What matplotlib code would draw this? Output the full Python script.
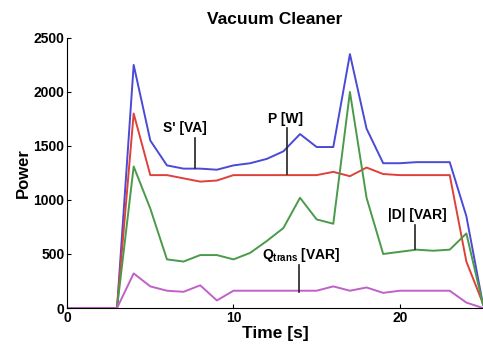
import numpy as np
import matplotlib
matplotlib.use('Agg')
import matplotlib.pyplot as plt

plt.rcParams['font.family'] = 'Liberation Sans'
plt.rcParams['font.weight'] = 'bold'
plt.rcParams['mathtext.fontset'] = 'custom'
plt.rcParams['mathtext.rm'] = 'Liberation Sans:bold'
plt.rcParams['mathtext.bf'] = 'Liberation Sans:bold'

# time in seconds
t = np.arange(0, 26)

# apparent power S' [VA]
s_va = [0, 0, 0, 0, 2250, 1550, 1320, 1290, 1290, 1280, 1320, 1340, 1380,
        1450, 1610, 1490, 1490, 2350, 1660, 1340, 1340, 1350, 1350, 1350, 850, 30]
# active power P [W]
p_w = [0, 0, 0, 0, 1800, 1230, 1230, 1200, 1170, 1180, 1230, 1230, 1230,
       1230, 1230, 1230, 1260, 1220, 1300, 1240, 1230, 1230, 1230, 1230, 430, 40]
# distortion power |D| [VAR]
d_var = [0, 0, 0, 0, 1310, 920, 450, 430, 490, 490, 450, 510, 620,
         740, 1020, 820, 780, 2000, 1020, 500, 520, 540, 530, 540, 690, 30]
# Q_trans [VAR]
q_var = [0, 0, 0, 0, 320, 200, 160, 150, 210, 70, 160, 160, 160,
         160, 160, 160, 200, 160, 190, 140, 160, 160, 160, 160, 50, 0]

fig = plt.figure(figsize=(4.83, 3.51), dpi=100)
ax = fig.add_axes([0.139, 0.1225, 0.861, 0.7695])

ax.plot(t, s_va, color='#4a4ad6', lw=1.4)
ax.plot(t, p_w, color='#e0403a', lw=1.4)
ax.plot(t, d_var, color='#4a9a4a', lw=1.4)
ax.plot(t, q_var, color='#c060c8', lw=1.4)

# labels with pointer lines
ax.text(7.1, 1670, "S' [VA]", ha='center', va='center', fontsize=10, fontweight='bold')
ax.plot([7.7, 7.7], [1575, 1295], color='#222222', lw=1.2)
ax.text(13.1, 1745, "P [W]", ha='center', va='center', fontsize=10, fontweight='bold')
ax.plot([13.2, 13.2], [1665, 1240], color='#222222', lw=1.2)
ax.text(14.1, 494, r"Q$_{\mathbf{trans}}$ [VAR]", ha='center', va='center', fontsize=10,
        fontweight='bold')
ax.plot([13.94, 13.94], [400, 145], color='#222222', lw=1.2)
ax.text(21.06, 865, "|D| [VAR]", ha='center', va='center', fontsize=10, fontweight='bold')
ax.plot([20.94, 20.94], [772, 550], color='#222222', lw=1.2)

ax.set_xlim(0, 25)
ax.set_ylim(0, 2500)
ax.set_xticks([0, 10, 20])
ax.set_yticks([0, 500, 1000, 1500, 2000, 2500])
ax.tick_params(direction='in', length=3, labelsize=10, pad=2)
for lab in ax.get_xticklabels() + ax.get_yticklabels():
    lab.set_fontweight('bold')
ax.spines['top'].set_visible(False)
ax.spines['right'].set_visible(False)

ax.set_xlabel('Time [s]', fontsize=12.5, fontweight='bold', labelpad=1)
ax.set_ylabel('Power', fontsize=12, fontweight='bold', labelpad=2)
ax.set_title('Vacuum Cleaner', fontsize=12.5, fontweight='bold', pad=10)

fig.savefig('out.png', dpi=100)
